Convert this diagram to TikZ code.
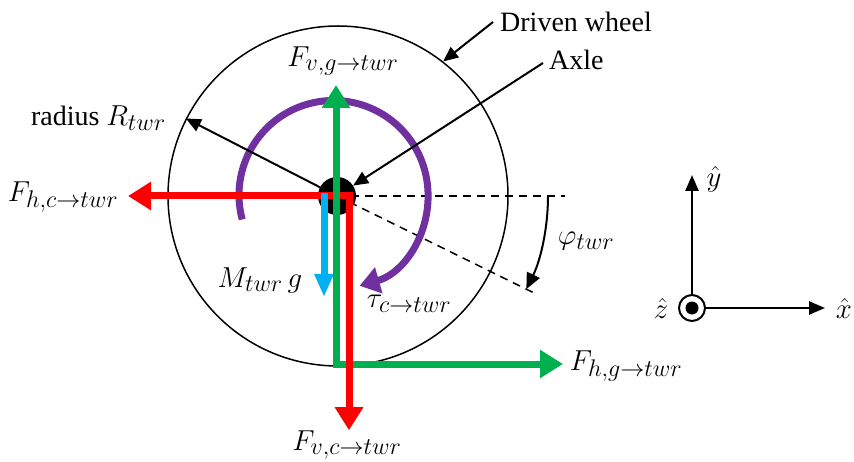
\documentclass[tikz,border=0pt]{standalone}
\usepackage{fontspec}
\setmainfont{Liberation Serif}
\usetikzlibrary{arrows.meta}
\definecolor{fred}{HTML}{FF0000}
\definecolor{fgreen}{HTML}{00B050}
\definecolor{fblue}{HTML}{00B0F0}
\definecolor{fpurple}{HTML}{7030A0}
\newcommand{\mbig}[1]{\scalebox{1.16}{$#1$}}
\begin{document}
\begin{tikzpicture}[x=1pt,y=1pt,
  lbl/.style={inner sep=0pt, font=\fontsize{28}{32}\selectfont},
  mlbl/.style={inner sep=0pt, font=\fontsize{24.88}{28}\selectfont},
  force/.style={line width=7pt},
  thinarrow/.style={line width=2pt, -{Triangle[length=15pt,width=13pt]}},
  dashline/.style={line width=1.5pt, dash pattern=on 8pt off 6pt}]
\useasboundingbox (0,0) rectangle (854,461);
% wheel
\node[circle, draw, line width=1.5pt, minimum size=340pt, inner sep=0pt] (wheel) at (338,265) {};
\coordinate (c) at (337,265);
\coordinate (dh) at (565,265);
\path (c) ++(-26.2:224) coordinate (dd);
\draw[dashline] (c) -- (dh);
\draw[dashline] (c) -- (dd);
% phi arc
\draw[line width=2pt, -{Triangle[length=16pt,width=14pt]}] (c) ++(0:211) arc[start angle=0, end angle=-26.2, radius=211];
% axle
\node[circle, fill=black, minimum size=38pt, inner sep=0pt] (axle) at (c) {};
% purple torque arc
\draw[fpurple, force, -{Triangle[length=20pt,width=26pt]}] (333.5,266) ++(195:94.5) arc[start angle=195, end angle=-74, radius=94.5];
% radius line
\draw[thinarrow] (axle.center) -- (wheel.153);
% red forces
\coordinate (hctip) at (128,265);
\coordinate (rc) at (349,265);
\coordinate (vctip) at (349,31);
\draw[fred, force, {Triangle[length=23pt,width=27pt]}-{Triangle[length=23pt,width=27pt]}] (hctip) -- (rc) -- (vctip);
% blue weight
\coordinate (bs) at (324,268);
\coordinate (bt) at (324,164);
\draw[fblue, force, -{Triangle[length=23pt,width=18pt]}] (bs) -- (bt);
% green forces
\coordinate (vgtip) at (336,376);
\coordinate (gc) at (336,97);
\coordinate (hgtip) at (563,97);
\draw[fgreen, force, {Triangle[length=23pt,width=27pt]}-{Triangle[length=23pt,width=27pt]}] (vgtip) -- (gc) -- (hgtip);
% red vertical on top
\draw[fred, force, -{Triangle[length=23pt,width=27pt]}] (rc) -- (vctip);
% pointer labels
\node[lbl, anchor=west] (dw) at (500,439) {Driven wheel};
\node[lbl, anchor=west] (ax) at (549,401) {Axle};
\coordinate (dws) at (493,439);
\coordinate (axs) at (543,398);
\draw[thinarrow] (dws) -- (wheel.52);
\draw[thinarrow] (axs) -- (axle);
% labels
\node[mlbl] (lvg) at (343,400) {\mbig{F_{v,g\to twr}}};
\node[lbl, anchor=east] (lrad) at (166,343) {radius \fontsize{24.88}{28}\selectfont\mbig{R_{twr}}};
\node[mlbl] (lhc) at (63,264) {\mbig{F_{h,c\to twr}}};
\node[mlbl] (lmg) at (260,181) {\mbig{M_{twr}\,g}};
\node[mlbl] (ltau) at (409,157) {\mbig{\tau_{c\to twr}}};
\node[mlbl] (lphi) at (586,220) {\mbig{\varphi_{twr}}};
\node[mlbl] (lhg) at (626,95) {\mbig{F_{h,g\to twr}}};
\node[mlbl] (lvc) at (347,16) {\mbig{F_{v,c\to twr}}};
% frame
\node[circle, draw, line width=2pt, minimum size=26pt, inner sep=0pt] (zc) at (692,153) {};
\fill (zc.center) circle (6.5);
\coordinate (ytip) at (692,286);
\coordinate (xtip) at (825,153);
\draw[line width=2.5pt, -{Triangle[length=16pt,width=13pt]}] (zc.north) -- (ytip);
\draw[line width=2.5pt, -{Triangle[length=16pt,width=13pt]}] (zc.east) -- (xtip);
\node[mlbl] (ly) at (714,282) {\mbig{\hat{y}}};
\node[mlbl] (lx) at (844,153) {\mbig{\hat{x}}};
\node[mlbl] (lz) at (661,153) {\mbig{\hat{z}}};
\end{tikzpicture}
\end{document}
